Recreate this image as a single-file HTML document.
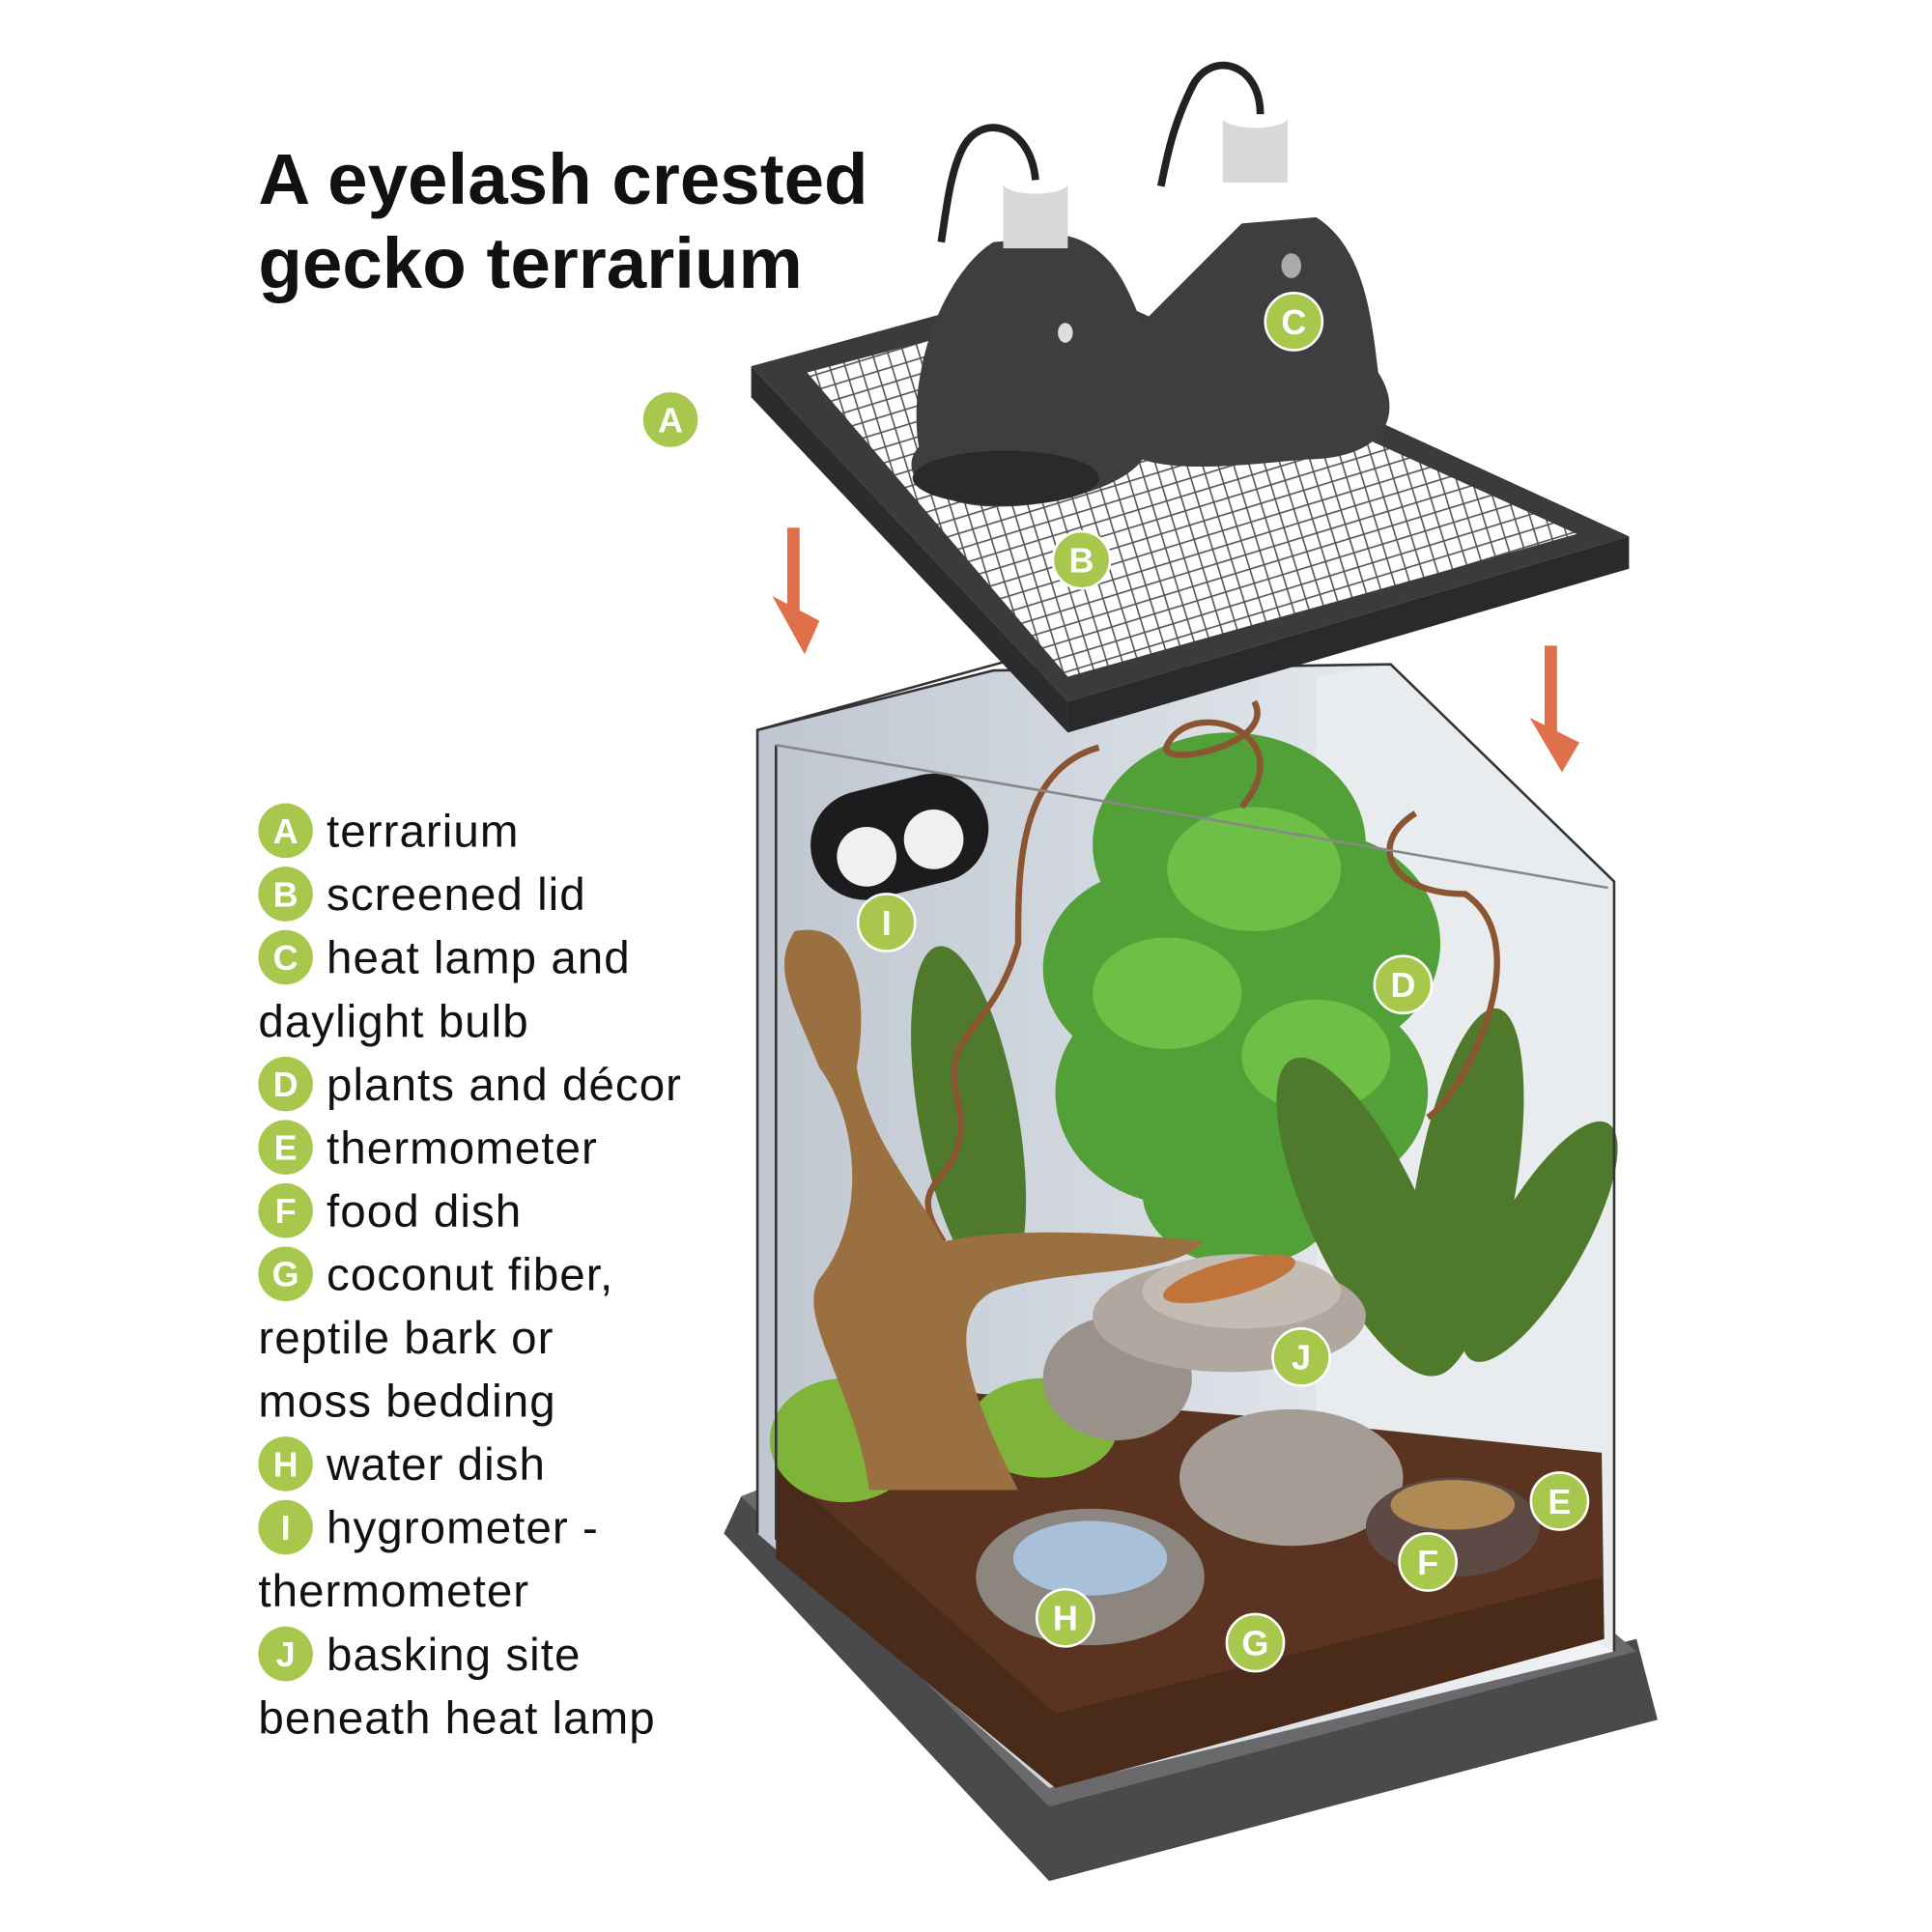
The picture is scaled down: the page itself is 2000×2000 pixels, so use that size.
<!DOCTYPE html>
<html><head><meta charset="utf-8"><style>
html,body{margin:0;padding:0;background:#fff;width:2000px;height:2000px;overflow:hidden}
svg{display:block}
.t{font-family:"Liberation Sans",sans-serif;font-weight:bold;font-size:58px;fill:#111}
.l{font-family:"Liberation Sans",sans-serif;font-size:37px;letter-spacing:0.8px;fill:#111}
.b{font-family:"Liberation Sans",sans-serif;font-weight:bold;font-size:28px;fill:#fff;text-anchor:middle}
</style></head><body>
<svg width="2000" height="2000" viewBox="0 0 1556 1556" xmlns="http://www.w3.org/2000/svg">
<defs>
<pattern id="mesh" width="12" height="12" patternUnits="userSpaceOnUse" patternTransform="rotate(-17)">
<rect width="12" height="12" fill="#fff"/><path d="M0 0H12M0 0V12" stroke="#555" stroke-width="2.5"/></pattern>
<linearGradient id="glass" x1="0" y1="0" x2="1" y2="0"><stop offset="0" stop-color="#bfc6cf"/><stop offset="0.6" stop-color="#dde2e8"/><stop offset="1" stop-color="#f2f4f6"/></linearGradient>
</defs>
<text class="t" x="208" y="164">A eyelash crested</text>
<text class="t" x="208" y="232">gecko terrarium</text>
<g>
<g fill="#a7c84c">
<circle cx="230" cy="669" r="22"/><circle cx="230" cy="720" r="22"/><circle cx="230" cy="771" r="22"/>
<circle cx="230" cy="873" r="22"/><circle cx="230" cy="924" r="22"/><circle cx="230" cy="975" r="22"/>
<circle cx="230" cy="1026" r="22"/><circle cx="230" cy="1179" r="22"/><circle cx="230" cy="1230" r="22"/>
<circle cx="230" cy="1332" r="22"/></g>
<text class="b" x="230" y="679">A</text><text class="b" x="230" y="730">B</text><text class="b" x="230" y="781">C</text>
<text class="b" x="230" y="883">D</text><text class="b" x="230" y="934">E</text><text class="b" x="230" y="985">F</text>
<text class="b" x="230" y="1036">G</text><text class="b" x="230" y="1189">H</text><text class="b" x="230" y="1240">I</text>
<text class="b" x="230" y="1342">J</text>
<text class="l" x="263" y="682">terrarium</text>
<text class="l" x="263" y="733">screened lid</text>
<text class="l" x="263" y="784">heat lamp and</text>
<text class="l" x="208" y="835">daylight bulb</text>
<text class="l" x="263" y="886">plants and décor</text>
<text class="l" x="263" y="937">thermometer</text>
<text class="l" x="263" y="988">food dish</text>
<text class="l" x="263" y="1039">coconut fiber,</text>
<text class="l" x="208" y="1090">reptile bark or</text>
<text class="l" x="208" y="1141">moss bedding</text>
<text class="l" x="263" y="1192">water dish</text>
<text class="l" x="263" y="1243">hygrometer -</text>
<text class="l" x="208" y="1294">thermometer</text>
<text class="l" x="263" y="1345">basking site</text>
<text class="l" x="208" y="1396">beneath heat lamp</text>
</g>
<polygon points="583,1235 597,1205 845,1440 1318,1320 1335,1385 845,1515" fill="#4a4a4c"/>
<polygon points="597,1205 610,1200 845,1420 1300,1315 1318,1330 845,1455" fill="#6a6a6d"/>
<polygon points="610,588 800,540 1120,535 1300,710 1300,1330 845,1440 610,1235" fill="url(#glass)"/>
<polygon points="1060,545 1120,535 1300,710 1300,1330 1060,1200" fill="#e9ecef"/>
<polygon points="625,1140 760,1120 1000,1140 1290,1170 1292,1320 850,1440 625,1255" fill="#5a3420"/>
<polygon points="625,1180 850,1380 1290,1270 1292,1320 850,1440 625,1255" fill="#4a2a18"/>
<ellipse cx="680" cy="1160" rx="60" ry="50" fill="#7fb33a"/>
<ellipse cx="840" cy="1150" rx="60" ry="40" fill="#7fb33a"/>
<g fill="#52a038">
<ellipse cx="990" cy="680" rx="110" ry="90"/><ellipse cx="930" cy="780" rx="90" ry="80"/>
<ellipse cx="1060" cy="760" rx="100" ry="90"/><ellipse cx="950" cy="880" rx="100" ry="90"/>
<ellipse cx="1060" cy="880" rx="90" ry="80"/><ellipse cx="1000" cy="960" rx="80" ry="60"/>
</g>
<g fill="#6ebf45"><ellipse cx="1010" cy="700" rx="70" ry="50"/><ellipse cx="940" cy="800" rx="60" ry="45"/><ellipse cx="1060" cy="850" rx="60" ry="45"/></g>
<g fill="#4f7a2c">
<ellipse cx="780" cy="900" rx="40" ry="140" transform="rotate(-10 780 900)"/>
<ellipse cx="1100" cy="980" rx="45" ry="140" transform="rotate(-25 1100 980)"/>
<ellipse cx="1180" cy="960" rx="40" ry="150" transform="rotate(10 1180 960)"/>
<ellipse cx="1240" cy="1000" rx="35" ry="110" transform="rotate(30 1240 1000)"/>
</g>
<g fill="none" stroke="#8a5530" stroke-width="5">
<path d="M885 602 C820 620 820 700 820 760 C800 830 760 830 770 880 C790 960 720 940 760 1000"/>
<path d="M1010 565 C1030 600 930 620 940 600 C960 560 1050 590 1000 650"/>
<path d="M1140 655 C1100 680 1120 720 1180 720 C1240 760 1180 880 1150 900"/>
</g>
<path d="M640 750 C690 740 700 800 690 860 C700 920 740 960 760 1000 C800 990 880 990 970 1000 C940 1030 860 1020 800 1040 C760 1060 780 1120 820 1200 L700 1200 C690 1120 640 1060 660 1030 C700 980 690 900 660 860 C640 810 620 780 640 750Z" fill="#9a7040"/>
<ellipse cx="900" cy="1110" rx="60" ry="50" fill="#9a918a"/>
<ellipse cx="990" cy="1060" rx="110" ry="45" fill="#b0a79e"/>
<ellipse cx="1000" cy="1040" rx="80" ry="30" fill="#c4bcb3"/>
<ellipse cx="1040" cy="1190" rx="90" ry="55" fill="#a59d95"/>
<ellipse cx="990" cy="1030" rx="55" ry="14" fill="#c0743a" transform="rotate(-15 990 1030)"/>
<ellipse cx="1170" cy="1230" rx="70" ry="40" fill="#5e4a44"/><ellipse cx="1170" cy="1212" rx="50" ry="20" fill="#b08a55"/>
<ellipse cx="878" cy="1270" rx="92" ry="55" fill="#8d8680"/><ellipse cx="878" cy="1255" rx="62" ry="30" fill="#a9c0da"/>
<rect x="652" y="630" width="145" height="88" rx="44" fill="#1c1c1e" transform="rotate(-14 724 674)"/>
<circle cx="698" cy="690" r="24" fill="#f0f0f0"/><circle cx="752" cy="676" r="24" fill="#f0f0f0"/>
<g fill="none" stroke="#333" stroke-width="2">
<polyline points="610,1235 610,588 800,540 1120,535 1300,710 1300,1330"/>
<line x1="610" y1="588" x2="820" y2="530"/>
<polyline points="625,1240 625,600"/>
<line x1="625" y1="600" x2="1295" y2="715" stroke="#888"/>
</g>
<g fill="#e0704a"><rect x="634" y="425" width="10" height="70"/><polygon points="622,480 660,500 648,527"/>
<rect x="1244" y="520" width="10" height="70"/><polygon points="1232,578 1272,598 1258,622"/></g>
<polygon points="605,295 860,225 1312,432 860,565" fill="#3b3b3d"/>
<polygon points="605,295 860,565 860,590 605,320" fill="#2c2c2e"/>
<polygon points="860,565 1312,432 1312,458 860,590" fill="#2a2a2c"/>
<polygon points="650,300 860,245 1270,430 860,545" fill="url(#mesh)"/>
<g fill="#3e3e40">
<path d="M740 360 C730 300 760 220 800 195 L860 190 C900 200 910 240 920 260 L1000 180 L1060 175 C1100 200 1105 260 1110 300 C1130 330 1120 370 1050 370 C1000 375 950 380 920 370 C900 400 800 420 760 400 C730 390 730 370 740 360Z"/>
</g>
<ellipse cx="810" cy="385" rx="75" ry="22" fill="#2a2a2c"/>
<rect x="808" y="148" width="52" height="52" fill="#d8d8d8"/><rect x="985" y="95" width="52" height="52" fill="#d8d8d8"/>
<ellipse cx="834" cy="148" rx="26" ry="8" fill="#fff"/><ellipse cx="1011" cy="95" rx="26" ry="8" fill="#fff"/>
<ellipse cx="858" cy="268" rx="6" ry="8" fill="#ddd"/><ellipse cx="1040" cy="214" rx="8" ry="10" fill="#aaa"/>
<g fill="none" stroke="#222" stroke-width="6">
<path d="M834 145 C830 100 790 90 775 120 C765 140 762 170 758 195"/>
<path d="M1015 92 C1015 50 975 40 960 70 C945 100 940 125 935 150"/>
</g>
<g fill="#a7c84c" stroke="#fff" stroke-width="2">
<circle cx="540" cy="338" r="23"/><circle cx="871" cy="451" r="23"/><circle cx="1042" cy="259" r="23"/>
<circle cx="1130" cy="793" r="23"/><circle cx="1256" cy="1209" r="23"/><circle cx="1150" cy="1258" r="23"/>
<circle cx="1011" cy="1323" r="23"/><circle cx="858" cy="1303" r="23"/><circle cx="714" cy="743" r="23"/>
<circle cx="1048" cy="1093" r="23"/></g>
<text class="b" x="540" y="348">A</text><text class="b" x="871" y="461">B</text><text class="b" x="1042" y="269">C</text>
<text class="b" x="1130" y="803">D</text><text class="b" x="1256" y="1219">E</text><text class="b" x="1150" y="1268">F</text>
<text class="b" x="1011" y="1333">G</text><text class="b" x="858" y="1313">H</text><text class="b" x="714" y="753">I</text>
<text class="b" x="1048" y="1103">J</text>
</svg>
</body></html>
